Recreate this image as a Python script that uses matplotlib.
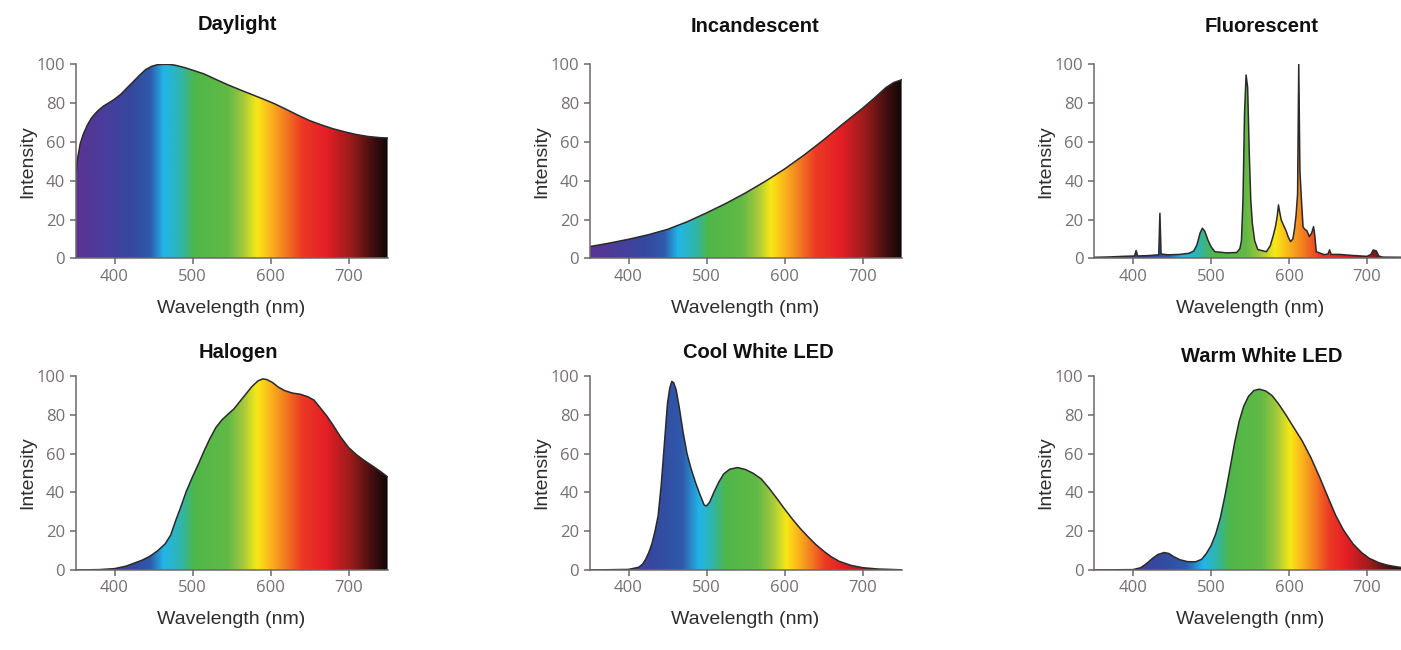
import numpy as np
import matplotlib
matplotlib.use('Agg')
import matplotlib.pyplot as plt
from matplotlib.colors import LinearSegmentedColormap

# Spectra (wavelength in nm, relative intensity)
daylight_nm = [350, 352, 356, 360, 365, 370, 375, 380, 386, 393, 400, 408, 416, 424, 432,
               440, 448, 455, 462, 470, 478, 490, 500, 515, 530, 545, 560, 575, 590, 605,
               620, 635, 650, 665, 680, 695, 710, 725, 740, 750]
daylight_val = [40, 50, 59, 64, 68.5, 72, 74.5, 76.5, 78.5, 80.2, 82, 84.5, 87.8, 91, 94.3,
                97.3, 99, 99.8, 100, 100, 99.5, 98.3, 97, 95, 92.2, 89.5, 87, 84.6, 82.2, 79.7,
                76.8, 73.8, 71, 68.8, 66.8, 65.2, 63.8, 62.8, 62.2, 62]

incand_nm = [350, 375, 400, 425, 450, 475, 500, 525, 550, 575, 600, 625, 650, 675, 700,
             715, 730, 740, 750]
incand_val = [6, 7.8, 9.8, 12.1, 14.9, 18.8, 23.4, 28.3, 33.7, 39.6, 46, 53.2, 61, 69.3, 77.3,
              82.5, 88, 90.6, 92]

fluor_nm = [350, 370, 387, 402, 404, 406, 420, 433, 434.5, 436, 445, 460, 472, 478, 482,
            486, 489, 492, 496, 500, 505, 520, 533, 537, 539, 541, 543, 545, 547, 549,
            551, 553, 556, 560, 571, 576, 580, 583, 585, 586.5, 588, 590, 593, 596, 599,
            602, 605, 607, 609, 611, 612.5, 614, 616, 618, 620, 623, 626, 629, 631.5, 633,
            635, 645, 650, 652, 654, 665, 680, 700, 705, 708, 712, 715, 720, 750]
fluor_val = [0.5, 0.7, 1, 1.2, 4, 1.2, 1.4, 1.8, 23.2, 2.2, 1.8, 2, 2.6, 3.8, 7,
             13, 15.5, 14, 9.5, 6, 3.4, 2.8, 3, 5, 9, 30, 75, 94.5, 88, 55,
             30, 18, 9, 4.5, 3.4, 6.5, 12, 17, 22, 27.5, 24, 19.8, 17, 14.5, 11,
             8.6, 10, 15, 22, 33, 100, 45, 30, 16.3, 15, 14.2, 11.2, 13, 16.3, 12,
             3.4, 1.9, 2.2, 4.3, 2, 2, 1.5, 1, 2, 4.3, 3.8, 1.2, 0.6, 0.5]

halogen_nm = [350, 380, 400, 415, 425, 435, 445, 455, 465, 472, 478, 485, 492, 500, 508,
              515, 522, 530, 538, 546, 553, 560, 568, 576, 584, 590, 595, 602, 610, 618,
              628, 638, 648, 656, 664, 672, 680, 690, 700, 710, 720, 732, 742, 750]
halogen_val = [0, 0.2, 0.7, 2, 3.5, 5, 7, 9.8, 13.5, 18, 25, 32.5, 40.5, 48, 55,
               61.5, 67.5, 73.5, 77.5, 80.5, 83, 86.5, 90.5, 94.5, 97.5, 98.5, 98.2, 96.8, 94.3, 92.5,
               91.2, 90.6, 89.3, 87.5, 83.5, 79.5, 74.8, 68.5, 63.2, 59.5, 56.5, 53.3, 50.5, 48]

cool_nm = [350, 400, 413, 418, 422, 426, 430, 434, 438, 442, 446, 450, 453, 455.5, 458,
           461, 465, 470, 475, 480, 486, 492, 497, 500, 504, 510, 516, 522, 530, 540,
           550, 560, 570, 580, 590, 600, 610, 620, 630, 640, 650, 660, 670, 685, 700,
           720, 750]
cool_val = [0, 0.3, 1.4, 3, 5.5, 9, 13.5, 20, 28, 44, 65, 86, 94, 97.2, 96.5,
            93, 84, 71, 60, 52.5, 45, 38.5, 33.5, 33, 35, 40.5, 45.5, 49.5, 52, 52.8,
            51.8, 49.8, 47, 42.3, 37, 31.5, 26.3, 21.5, 17.2, 13.2, 9.8, 6.8, 4.5, 2.4, 1.2,
            0.5, 0.1]

warm_nm = [350, 400, 410, 418, 425, 432, 440, 446, 452, 460, 470, 480, 488, 494, 500,
           506, 512, 518, 524, 530, 536, 542, 548, 555, 562, 570, 578, 586, 596, 606,
           617, 628, 639, 650, 660, 670, 682, 693, 703, 715, 725, 737, 750]
warm_val = [0, 0.2, 1.2, 3.5, 6, 8, 9, 8.5, 6.9, 5.3, 4.3, 4.2, 5.5, 8.5, 12.5,
            18.5, 27, 38.5, 51.5, 65, 76.5, 84.5, 89.5, 92.5, 93.2, 92.3, 90, 86, 80, 73.5,
            66.5, 58, 48.1, 37.5, 28, 20.5, 13.5, 9, 6, 3.8, 2.6, 1.7, 1]

titles = ['Daylight', 'Incandescent', 'Fluorescent',
          'Halogen', 'Cool White LED', 'Warm White LED']
spectra = [(daylight_nm, daylight_val), (incand_nm, incand_val), (fluor_nm, fluor_val),
           (halogen_nm, halogen_val), (cool_nm, cool_val), (warm_nm, warm_val)]

# rainbow fill, two slightly different stretchings used in the original
spec_colors = ['#5b3393', '#4a3d9b', '#3548a0', '#2f5aab', '#22b5e8', '#2fb5ad', '#4eb748',
               '#62b946', '#a6c93b', '#f7e815', '#fcc21c', '#f5901f', '#ec3a24', '#e41e26',
               '#9b1c1c', '#3c0d0d', '#110707']
broad_stops = [350, 385, 420, 445, 462, 484, 502, 545, 565, 582, 595, 612, 640, 672, 703, 733, 750]
led_stops = [350, 400, 430, 468, 490, 506, 524, 565, 585, 602, 613, 628, 652, 675, 705, 735, 750]
panel_stops = [broad_stops, broad_stops, broad_stops, broad_stops, led_stops, led_stops]


def make_cmap(stops):
    pos = [(s - 350) / 400 for s in stops]
    return LinearSegmentedColormap.from_list('spec', list(zip(pos, spec_colors)))


W, H = 1401, 650
fig = plt.figure(figsize=(W / 100, H / 100), dpi=100)

# axes boxes in pixels (left, top), all 312 x 194
lefts = [75.5, 589.5, 1094]
tops = [64.3, 376]
title_xy = [(237, 25), (755, 26), (1262, 27), (238, 352), (758, 352), (1262, 357)]
aw, ah = 312, 194

axis_col = '#6f6868'
tick_font = 'Open Sans'
lab_font = 'Liberation Sans'

gradient = np.linspace(0, 1, 1000).reshape(1, -1)

for i, (nm, val) in enumerate(spectra):
    r, c = divmod(i, 3)
    l, t = lefts[c], tops[r]
    ax = fig.add_axes([l / W, 1 - (t + ah) / H, aw / W, ah / H])
    ax.set_xlim(350, 750)
    ax.set_ylim(0, 100)

    poly = ax.fill_between(nm, val, 0, facecolor='none', edgecolor='none')
    im = ax.imshow(gradient, extent=[350, 750, 0, 100], aspect='auto',
                   cmap=make_cmap(panel_stops[i]), origin='lower', zorder=1)
    im.set_clip_path(poly.get_paths()[0], transform=ax.transData)
    ax.plot(nm, val, color='#2a2a2a', lw=1.1, zorder=3)
    ax.plot([nm[-1], nm[-1]], [0, val[-1]], color='#111111', lw=1.0, zorder=3)

    for s in ['top', 'right']:
        ax.spines[s].set_visible(False)
    for s in ['left', 'bottom']:
        ax.spines[s].set_color(axis_col)
        ax.spines[s].set_linewidth(1.1)
        ax.spines[s].set_zorder(4)
    ax.set_xticks([400, 500, 600, 700])
    ax.set_yticks([0, 20, 40, 60, 80, 100])
    ax.tick_params(direction='out', length=4.5, width=1.1, color=axis_col,
                   labelcolor='#767070', labelsize=12, pad=3)
    for lab in ax.get_xticklabels() + ax.get_yticklabels():
        lab.set_fontfamily(tick_font)

    ax.text(-48 / aw, 0.5, 'Intensity', transform=ax.transAxes, rotation=90,
            ha='center', va='center', fontsize=14, color='#2e2e2e', family=lab_font)
    ax.text(0.5, -50 / ah, 'Wavelength (nm)', transform=ax.transAxes,
            ha='center', va='center', fontsize=14, color='#2e2e2e', family=lab_font)
    tx, ty = title_xy[i]
    fig.text(tx / W, 1 - ty / H, titles[i], ha='center', va='center', fontsize=14.5,
             fontweight='bold', color='#111111', family=lab_font)

fig.savefig('out.png', dpi=100)
